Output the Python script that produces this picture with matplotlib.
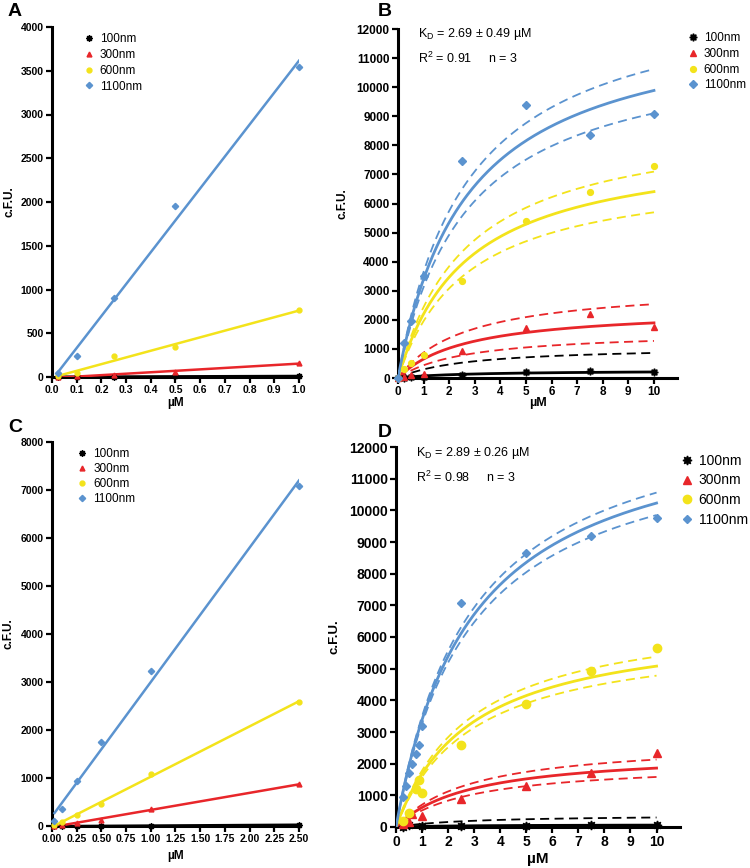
import numpy as np
import matplotlib
matplotlib.use("Agg")
import matplotlib.pyplot as plt

plt.rcParams['font.family'] = ['Liberation Sans', 'DejaVu Sans']

# ---- data ----
labels = ["100nm", "300nm", "600nm", "1100nm"]
colors = ["black", "#e8262a", "#f3e31b", "#5b93cf"]
markers = [(8, 1, 0), "^", "o", "D"]

# panel A (linear range, 0-1 uM)
xA = [0.025, 0.1, 0.25, 0.5, 1.0]
yA = [
    [0, 5, 5, 10, 10],
    [0, 10, 20, 60, 160],
    [10, 50, 235, 345, 765],
    [50, 235, 900, 1950, 3540],
]

# panel C (linear range, 0-2.5 uM)
xC = [0.025, 0.1, 0.25, 0.5, 1.0, 2.5]
yC = [
    [0, 0, 0, 0, 0, 30],
    [10, 20, 60, 120, 350, 870],
    [30, 80, 230, 450, 1080, 2590],
    [100, 350, 940, 1750, 3230, 7080],
]

# panel B (saturation binding)
xB = [0, 0.25, 0.5, 1, 2.5, 5, 7.5, 10]
yB = [
    [0, 10, 30, 50, 110, 200, 240, 200],
    [0, 50, 100, 130, 920, 1730, 2200, 1770],
    [0, 300, 500, 780, 3320, 5400, 6380, 7300],
    [0, 1200, 1950, 3500, 7450, 9400, 8350, 9080],
]
kdB = 2.69
bmaxB = [263, 2405, 8132, 12546]
bmaxB_hi = [1093, 3221, 9006, 13480]
bmaxB_lo = [-300, 1618, 7229, 11550]

# panel D (saturation binding)
xD = [
    [0.25, 0.5, 1, 2.5, 5, 7.5, 10],
    [0.25, 0.5, 0.625, 1, 2.5, 5, 7.5, 10],
    [0.25, 0.5, 0.75, 0.875, 1, 2.5, 5, 7.5, 10],
    [0.25, 0.375, 0.5, 0.625, 0.75, 0.875, 1, 2.5, 5, 7.5, 10],
]
yD = [
    [0, 50, 20, 20, 20, 50, 50],
    [100, 150, 420, 350, 870, 1300, 1700, 2330],
    [200, 430, 1200, 1480, 1080, 2580, 3880, 4940, 5660],
    [950, 1300, 1700, 2000, 2300, 2600, 3200, 7080, 8650, 9180, 9750],
]
kdD = 2.89
bmaxD = [77, 2398, 6548, 13186]
bmaxD_hi = [387, 2746, 6935, 13612]
bmaxD_lo = [-200, 2037, 6161, 12697]

W, H = 750, 868
fig = plt.figure(figsize=(W / 100, H / 100), dpi=100)


def axes_px(left, right, top, bottom):
    return fig.add_axes([left / W, 1 - bottom / H, (right - left) / W, (bottom - top) / H])


def style_axes(ax, fs):
    for s in ["top", "right"]:
        ax.spines[s].set_visible(False)
    for s in ["left", "bottom"]:
        ax.spines[s].set_linewidth(2.2)
    ax.tick_params(direction="out", length=4, width=1.6, labelsize=fs, pad=2)
    for t in ax.get_xticklabels() + ax.get_yticklabels():
        t.set_fontweight("bold")


def scatter_all(ax, xs, ys, ms):
    handles = []
    for i in range(4):
        x = xs[i] if isinstance(xs[0], list) else xs
        h, = ax.plot(x, ys[i], linestyle="none", marker=markers[i], color=colors[i],
                     markersize=ms[i], clip_on=False, zorder=5, label=labels[i])
        handles.append(h)
    return handles


# ---- A ----
axA = axes_px(52, 299, 27, 377)
for i in range(4):
    k, b = np.polyfit(xA, yA[i], 1)
    xx = np.array([xA[0], xA[-1]])
    axA.plot(xx, k * xx + b, color=colors[i], lw=1.8, zorder=3)
hA = scatter_all(axA, xA, yA, [4.5, 3.5, 3.5, 3.2])
axA.set_xlim(0, 1.0)
axA.set_ylim(0, 4000)
axA.set_xticks(np.arange(0, 1.01, 0.1))
axA.set_yticks(np.arange(0, 4001, 500))
style_axes(axA, 7.5)
axA.set_xlabel("µM", fontsize=8.5, fontweight="bold", labelpad=1)
axA.set_ylabel("c.F.U.", fontsize=8.5, fontweight="bold", labelpad=4)
axA.legend(handles=hA, loc="upper left", bbox_to_anchor=(0.1, 1.0), frameon=False,
           fontsize=8.5, handlelength=1.0, handletextpad=0.45, labelspacing=0.33, borderpad=0)

# ---- C ----
axC = axes_px(52, 299, 442, 826)
for i in range(4):
    k, b = np.polyfit(xC, yC[i], 1)
    xx = np.array([xC[0], xC[-1]])
    axC.plot(xx, k * xx + b, color=colors[i], lw=1.8, zorder=3)
hC = scatter_all(axC, xC, yC, [4.5, 3.5, 3.5, 3.2])
axC.set_xlim(0, 2.5)
axC.set_ylim(0, 8000)
axC.set_xticks(np.arange(0, 2.51, 0.25))
axC.set_xticklabels(["%.2f" % v for v in np.arange(0, 2.51, 0.25)])
axC.set_yticks(np.arange(0, 8001, 1000))
style_axes(axC, 7.5)
axC.set_xlabel("µM", fontsize=8.5, fontweight="bold", labelpad=4)
axC.set_ylabel("c.F.U.", fontsize=8.5, fontweight="bold", labelpad=4)
axC.legend(handles=hC, loc="upper left", bbox_to_anchor=(0.075, 1.0), frameon=False,
           fontsize=8.5, handlelength=1.0, handletextpad=0.45, labelspacing=0.25, borderpad=0)


# ---- B / D ----
def binding_panel(ax, xs, ys, kd, bm, bhi, blo, ms, lw):
    xx = np.linspace(0, 10, 200)
    for i in range(4):
        ax.plot(xx, bm[i] * xx / (kd + xx), color=colors[i], lw=lw, zorder=3)
        ax.plot(xx, bhi[i] * xx / (kd + xx), color=colors[i], lw=1.3, ls=(0, (5, 3)), zorder=2)
        ax.plot(xx, blo[i] * xx / (kd + xx), color=colors[i], lw=1.3, ls=(0, (5, 3)), zorder=2)
    return scatter_all(ax, xs, ys, ms)


axB = axes_px(398, 677, 29, 378)
hB = binding_panel(axB, xB, yB, kdB, bmaxB, bmaxB_hi, bmaxB_lo, [5.5, 4, 4.2, 3.6], 2.0)
axB.set_xlim(0, 10.9)
axB.set_ylim(0, 12000)
axB.set_xticks(range(0, 11))
axB.set_yticks(range(0, 12001, 1000))
style_axes(axB, 8.5)
axB.set_xlabel("µM", fontsize=9, fontweight="bold", labelpad=-1)
axB.set_ylabel("c.F.U.", fontsize=8.5, fontweight="bold", labelpad=6)
axB.text(0.07, 0.985, "K$_\\mathregular{D}$ = 2.69 ± 0.49 µM", transform=axB.transAxes,
         fontsize=9, va="center")
axB.text(0.07, 0.915, "R$^\\mathregular{2}$ = 0.91     n = 3", transform=axB.transAxes,
         fontsize=9, va="center")
axB.legend(handles=hB, loc="upper left", bbox_to_anchor=(1.015, 1.008), frameon=False,
           fontsize=8.5, handlelength=1.0, handletextpad=0.4, labelspacing=0.32, borderpad=0)

axD = axes_px(396, 680, 447, 827)
hD = binding_panel(axD, xD, yD, kdD, bmaxD, bmaxD_hi, bmaxD_lo, [6.5, 5.5, 6, 4.5], 2.0)
axD.set_xlim(0, 10.9)
axD.set_ylim(0, 12000)
axD.set_xticks(range(0, 11))
axD.set_yticks(range(0, 12001, 1000))
style_axes(axD, 10)
axD.set_xlabel("µM", fontsize=11, fontweight="bold", labelpad=2)
axD.set_ylabel("c.F.U.", fontsize=9.5, fontweight="bold", labelpad=6)
axD.text(0.07, 0.985, "K$_\\mathregular{D}$ = 2.89 ± 0.26 µM", transform=axD.transAxes,
         fontsize=9, va="center")
axD.text(0.07, 0.92, "R$^\\mathregular{2}$ = 0.98     n = 3", transform=axD.transAxes,
         fontsize=9, va="center")
axD.legend(handles=hD, loc="upper left", bbox_to_anchor=(0.975, 1.0), frameon=False,
           fontsize=10, handlelength=1.0, handletextpad=0.35, labelspacing=0.4, borderpad=0)

# panel letters
for letter, x, y in [("A", 8, 12), ("B", 378, 12), ("C", 8, 428), ("D", 378, 432)]:
    fig.text(x / W, 1 - y / H, letter, fontsize=14, fontweight="bold", va="center")

fig.savefig("out.png", dpi=100)
